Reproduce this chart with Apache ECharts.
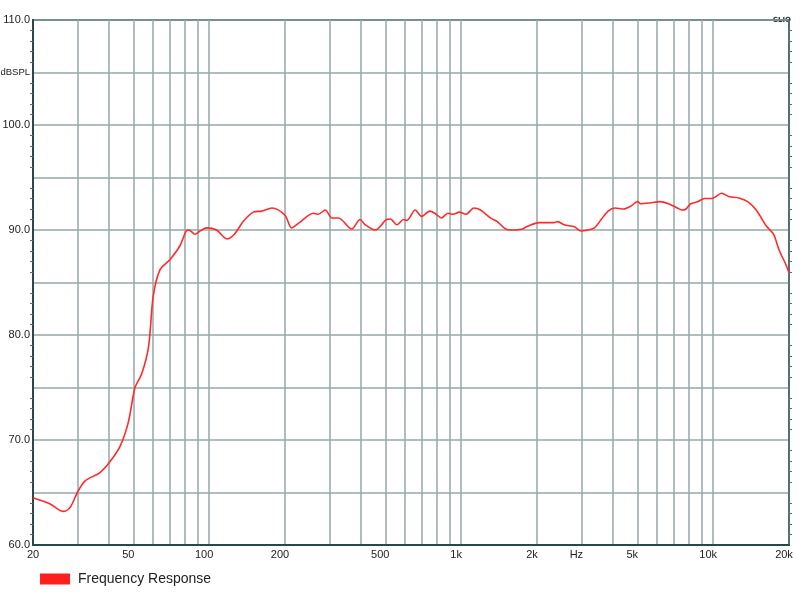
<!DOCTYPE html>
<html>
<head>
<meta charset="utf-8">
<title>Frequency Response</title>
<script src="https://cdn.jsdelivr.net/npm/echarts@6/dist/echarts.min.js"></script>
<style>
  html, body { margin: 0; padding: 0; background: #fff; }
  #chart { width: 800px; height: 596px; }
</style>
</head>
<body>
<div id="chart"></div>
<script>
// frequency (Hz) and level (dB SPL)
var freq = [20, 23.4, 26.4, 28.1, 30, 32.2, 36.9, 40, 44.3, 47.8, 50.8, 54, 57.5, 60, 63.8, 70, 76.6, 81, 83, 88, 92, 97.7,
    107, 117.6, 126, 136.5, 149.6, 161.6, 177.6, 200, 212.5, 228, 259, 271, 289, 307, 326, 368, 397, 416, 456,
    506, 524, 556, 591, 609, 657, 697, 751, 786, 835, 887, 928, 985, 1044, 1124, 1194, 1307, 1391, 1501, 1620,
    1749, 1833, 2039, 2337, 2411, 2563, 2813, 2990, 3180, 3382, 3596, 3830, 4084, 4406, 4700, 5010, 5165, 5680,
    6150, 6650, 7200, 7550, 7800, 8150, 8695, 9250, 9855, 10830, 11520, 12660, 13700, 14820, 16290, 17360,
    18270, 19570, 20000];
var spl = [64.5, 63.9, 63.2, 63.6, 65.0, 66.1, 66.9, 67.8, 69.4, 71.7, 75.0, 76.3, 78.9, 83.7, 86.2, 87.2, 88.5, 89.9, 90.0, 89.6, 89.9, 90.2,
    90.0, 89.15, 89.6, 90.8, 91.7, 91.8, 92.1, 91.4, 90.2, 90.7, 91.6, 91.5, 91.9, 91.15, 91.15, 90.1, 91.0, 90.5, 90.0,
    91.0, 91.05, 90.5, 91.0, 90.9, 91.9, 91.3, 91.8, 91.6, 91.15, 91.6, 91.5, 91.7, 91.5, 92.1, 91.9, 91.15, 90.8, 90.1, 90.0,
    90.1, 90.35, 90.7, 90.7, 90.8, 90.5, 90.3, 89.9, 90.0, 90.2, 91.0, 91.8, 92.1, 92.0, 92.25, 92.7, 92.5, 92.6,
    92.7, 92.5, 92.1, 91.9, 92.0, 92.5, 92.7, 93.0, 93.0, 93.5, 93.2, 93.05, 92.7, 91.9, 90.35, 89.6,
    88.1, 86.55, 85.9];

var gridFreqs = [20, 30, 40, 50, 60, 70, 80, 90, 100, 200, 300, 400, 500, 600, 700, 800, 900, 1000,
    2000, 3000, 4000, 5000, 6000, 7000, 8000, 9000, 10000, 20000];
var labelFreqs = [20, 50, 100, 200, 500, 1000, 2000, 3000, 5000, 10000, 20000];
var labelText = { 1000: '1k', 2000: '2k', 3000: 'Hz', 5000: '5k', 10000: '10k', 20000: '20k' };

var gridColor = '#93a8a8';
var axisColor = '#2a4848';

var points = [];
for (var i = 0; i < freq.length; i++) points.push([freq[i], spl[i]]);

var chart = echarts.init(document.getElementById('chart'));
var option = {
    backgroundColor: '#fff',
    animation: false,
    grid: {
        left: 33, right: 11, top: 20, bottom: 51,
        containLabel: false, outerBoundsMode: 'none',
        show: true, borderColor: axisColor, borderWidth: 2
    },
    legend: {
        data: ['Frequency Response'],
        left: 35, top: 567,
        icon: 'rect', itemWidth: 30, itemHeight: 11,
        textStyle: { fontFamily: 'Liberation Sans', fontSize: 14, color: '#222', padding: [0, 0, 0, 3] }
    },
    xAxis: {
        type: 'log', logBase: 10, min: 20, max: 20000,
        axisLine: { show: true, lineStyle: { color: axisColor, width: 2 } },
        axisTick: { show: false, customValues: gridFreqs },
        splitLine: { show: true, lineStyle: { color: gridColor, width: 1.5 } },
        minorTick: { show: false },
        axisLabel: {
            customValues: labelFreqs,
            margin: 4,
            fontFamily: 'Liberation Sans', fontSize: 11, color: '#222',
            formatter: function (v) {
                var t = labelText[Math.round(v)] || String(Math.round(v));
                return Math.round(v) === 20 ? t : '{s|' + t + '}';
            },
            rich: { s: { padding: [0, 10, 0, 0], fontFamily: 'Liberation Sans', fontSize: 11, color: '#222' } }
        }
    },
    yAxis: [{
        type: 'value', min: 60, max: 110, interval: 5,
        axisLine: { show: true, lineStyle: { color: axisColor, width: 2 } },
        axisTick: { show: false },
        minorTick: { show: true, splitNumber: 5, length: 3, lineStyle: { color: '#557070' } },
        splitLine: { show: true, lineStyle: { color: gridColor, width: 1.5 } },
        axisLabel: {
            margin: 3,
            fontFamily: 'Liberation Sans', fontSize: 11, color: '#222',
            formatter: function (v) {
                if (v === 105) return '{u|dBSPL}';
                return v % 10 === 0 ? v.toFixed(1) : '';
            },
            rich: { u: { fontFamily: 'Liberation Sans', fontSize: 9.5, color: '#222' } }
        }
    }, {
        type: 'value', min: 60, max: 110, interval: 5, position: 'right',
        axisLine: { show: true, lineStyle: { color: '#4a6666', width: 1.5 } },
        axisTick: { show: false },
        minorTick: { show: true, splitNumber: 5, length: 3, lineStyle: { color: '#557070' } },
        splitLine: { show: false },
        axisLabel: { show: false }
    }],
    graphic: [{
        type: 'text', right: 9, top: 17,
        style: { text: 'CLIO', fontFamily: 'DejaVu Sans', fontWeight: 'bold', fontSize: 7, fill: '#333' }
    }],
    series: [{
        name: 'Frequency Response',
        type: 'line',
        data: points,
        showSymbol: false,
        smooth: 0.3,
        itemStyle: { color: '#ff1f1f' },
        lineStyle: { color: '#ff2a2a', width: 1.6 }
    }]
};
chart.setOption(option);
</script>
</body>
</html>
